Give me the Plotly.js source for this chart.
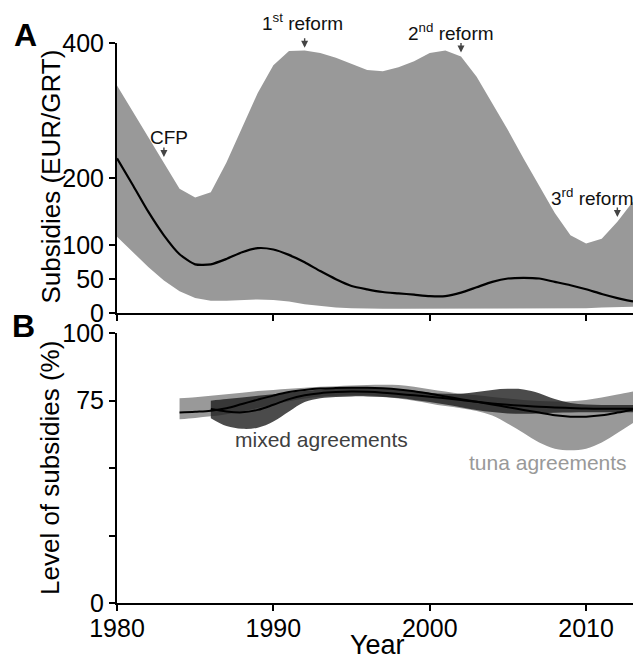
<!DOCTYPE html>
<html>
<head>
<meta charset="utf-8">
<script src="https://cdn.plot.ly/plotly-3.0.1.min.js"></script>
<style>html,body{margin:0;padding:0;background:#fff;}#chart{width:633px;height:661px;}</style>
</head>
<body>
<div id="chart"></div>
<script>
// Panel A: subsidies (EUR/GRT)
const yearsA = [1980,1981,1982,1983,1984,1985,1986,1987,1988,1989,1990,1991,1992,1993,1994,1995,1996,1997,1998,1999,2000,2001,2002,2003,2004,2005,2006,2007,2008,2009,2010,2011,2012,2013];
const upperA = [337,299,262,224,184,171,179,223,275,326,367,388,389,385,378,369,360,358,364,373,385,389,380,350,311,271,229,188,148,115,103,110,135,165];
const meanA  = [229,190,150,115,87,72,72,80,90,96,94,86,75,62,50,40,35,31,29,27,25,25,30,38,46,51,52,51,46,41,35,28,22,17];
const lowerA = [113,90,68,48,32,22,18,18,19,20,19,17,13,10,8,7,6,6,6,6,6,6,6,6,6,6,6,6,7,7,7,8,8,9];

// Panel B: level of subsidies (%)
const yearsTuna = [1984,1985,1986,1987,1988,1989,1990,1991,1992,1993,1994,1995,1996,1997,1998,1999,2000,2001,2002,2003,2004,2005,2006,2007,2008,2009,2010,2011,2012,2013];
const tunaUpper = [75.9,76.3,76.8,77.4,78.0,78.6,79.0,79.4,79.8,80.2,80.4,80.6,80.8,80.9,80.8,80.2,79.3,78.4,77.6,77.0,76.4,75.8,75.3,74.9,74.7,74.8,75.3,76.2,77.3,78.4];
const tunaMean  = [70.6,70.9,71.3,72.2,73.8,75.4,76.9,78.2,79.0,79.5,79.7,79.8,79.8,79.6,79.2,78.5,77.6,76.6,75.6,74.6,73.6,72.6,71.6,70.6,69.6,69.1,69.1,69.6,70.6,71.8];
const tunaLower = [68.1,68.6,69.2,70.0,71.0,72.3,73.6,74.8,75.8,76.5,76.8,77.0,77.0,76.6,75.8,75.0,74.0,73.0,72.2,71.2,69.5,66.5,63.0,59.5,57.2,56.6,57.2,59.5,63.0,66.7];

const yearsMixed = [1986,1987,1988,1989,1990,1991,1992,1993,1994,1995,1996,1997,1998,1999,2000,2001,2002,2003,2004,2005,2006,2007,2008,2009,2010,2011,2012,2013];
const mixedUpper = [75.0,75.6,76.2,76.8,77.4,78.0,78.6,79.2,79.6,79.8,79.8,79.6,79.2,78.6,78.0,77.6,77.6,78.2,79.0,79.4,79.2,77.8,75.6,74.2,73.6,73.4,73.4,73.4];
const mixedMean  = [71.9,71.0,70.7,71.6,73.5,75.6,77.0,77.8,78.2,78.4,78.3,78.0,77.5,77.0,76.5,75.9,75.3,74.6,74.0,73.5,73.1,72.8,72.5,72.3,72.1,72.0,72.0,72.0];
const mixedLower = [68.5,65.6,64.6,65.0,67.3,71.0,74.5,75.9,76.4,76.6,76.6,76.4,76.0,75.3,74.5,73.6,72.6,71.6,70.8,70.3,70.2,70.3,70.5,70.6,70.7,70.7,70.7,70.7];

const tickValsA = [0,50,100,200,400];
const tickValsB = [0,25,50,75,100];
const tickTextB = ['0','','','75','100'];
const xTickVals = [1980,1990,2000,2010];

const FONT = 'Liberation Sans, Arial, Helvetica, sans-serif';
const LIGHT = '#999999';

const traces = [
  {x: yearsA, y: lowerA, xaxis:'x', yaxis:'y', mode:'lines', line:{width:0, color:LIGHT}, hoverinfo:'skip', showlegend:false},
  {x: yearsA, y: upperA, xaxis:'x', yaxis:'y', mode:'lines', line:{width:0, color:LIGHT}, fill:'tonexty', fillcolor:LIGHT, showlegend:false},
  {x: yearsA, y: meanA, xaxis:'x', yaxis:'y', mode:'lines', line:{width:2.2, color:'#000', shape:'spline', smoothing:0.6}, showlegend:false},

  {x: yearsTuna, y: tunaLower, xaxis:'x2', yaxis:'y2', mode:'lines', line:{width:0, color:LIGHT, shape:'spline'}, showlegend:false},
  {x: yearsTuna, y: tunaUpper, xaxis:'x2', yaxis:'y2', mode:'lines', line:{width:0, color:LIGHT, shape:'spline'}, fill:'tonexty', fillcolor:LIGHT, showlegend:false},
  {x: yearsMixed, y: mixedLower, xaxis:'x2', yaxis:'y2', mode:'lines', line:{width:0, color:'#333', shape:'spline'}, showlegend:false},
  {x: yearsMixed, y: mixedUpper, xaxis:'x2', yaxis:'y2', mode:'lines', line:{width:0, color:'#333', shape:'spline'}, fill:'tonexty', fillcolor:'rgba(30,30,30,0.8)', showlegend:false},
  {x: yearsTuna, y: tunaMean, xaxis:'x2', yaxis:'y2', mode:'lines', line:{width:2, color:'#000', shape:'spline'}, showlegend:false},
  {x: yearsMixed, y: mixedMean, xaxis:'x2', yaxis:'y2', mode:'lines', line:{width:2, color:'#000', shape:'spline'}, showlegend:false}
];

const axisCommon = {showgrid:false, zeroline:false, showline:true, linecolor:'#000', linewidth:2, ticks:'outside', ticklen:6, tickwidth:2, tickcolor:'#000', tickfont:{family:FONT, size:25, color:'#000'}};

const arrow = (x, y) => ({x:x, y:y, xref:'x', yref:'y', text:'', showarrow:true, arrowhead:2, arrowsize:1, arrowwidth:1.4, arrowcolor:'#444', ax:0, ay:-11});
const label = (x, y, txt, size, color, xref, yref) => ({x:x, y:y, xref:xref||'x', yref:yref||'y', text:txt, showarrow:false, xanchor:'center', yanchor:'middle', font:{family:FONT, size:size, color:color}});
const px2x = (px) => (px - 117) / 516;
const px2y = (py) => (603 - py) / 560;

const layout = {
  width:633, height:661,
  margin:{l:117, r:0, t:43, b:58},
  paper_bgcolor:'#fff', plot_bgcolor:'rgba(0,0,0,0)',
  showlegend:false,
  font:{family:FONT, color:'#000'},
  xaxis: Object.assign({}, axisCommon, {domain:[0,1], anchor:'y', range:[1980,2013], tickvals:xTickVals, showticklabels:false}),
  yaxis: Object.assign({}, axisCommon, {domain:[0.518,1], anchor:'x', range:[0,400], tickvals:tickValsA}),
  xaxis2: Object.assign({}, axisCommon, {domain:[0,1], anchor:'y2', range:[1980,2013], tickvals:xTickVals, ticklabelstandoff:-4}),
  yaxis2: Object.assign({}, axisCommon, {domain:[0,0.4816], anchor:'x2', range:[0,100], tickvals:tickValsB, ticktext:tickTextB}),
  annotations: [
    label(1983.3, 260, 'CFP', 19, '#111'),
    arrow(1983, 231),
    label(px2x(302), px2y(22), '1<sup>st</sup> reform', 19, '#111', 'paper', 'paper'),
    arrow(1992, 393),
    label(px2x(451), px2y(32), '2<sup>nd</sup> reform', 19, '#111', 'paper', 'paper'),
    arrow(2002, 386),
    label(2010.4, 172, '3<sup>rd</sup> reform', 19, '#111'),
    arrow(2012, 142),
    Object.assign(label(1993.05, 60.5, 'mixed agreements', 21, '#404040'), {xref:'x2', yref:'y2'}),
    Object.assign(label(2007.56, 52, 'tuna agreements', 21, '#999999'), {xref:'x2', yref:'y2'}),
    label(px2x(50), px2y(176.5), 'Subsidies (EUR/GRT)', 26, '#000', 'paper', 'paper'),
    label(px2x(50), px2y(468), 'Level of subsidies (%)', 26, '#000', 'paper', 'paper'),
    label(px2x(377), px2y(645), 'Year', 27, '#000', 'paper', 'paper'),
    {x:px2x(25), y:px2y(35), xref:'paper', yref:'paper', text:'<b>A</b>', showarrow:false, xanchor:'center', yanchor:'middle', font:{family:FONT, size:32, color:'#000'}},
    {x:px2x(23), y:px2y(326), xref:'paper', yref:'paper', text:'<b>B</b>', showarrow:false, xanchor:'center', yanchor:'middle', font:{family:FONT, size:32, color:'#000'}}
  ]
};
layout.annotations[10].textangle = -90;
layout.annotations[11].textangle = -90;

Plotly.newPlot('chart', traces, layout, {staticPlot:true, displayModeBar:false});
</script>
</body>
</html>
